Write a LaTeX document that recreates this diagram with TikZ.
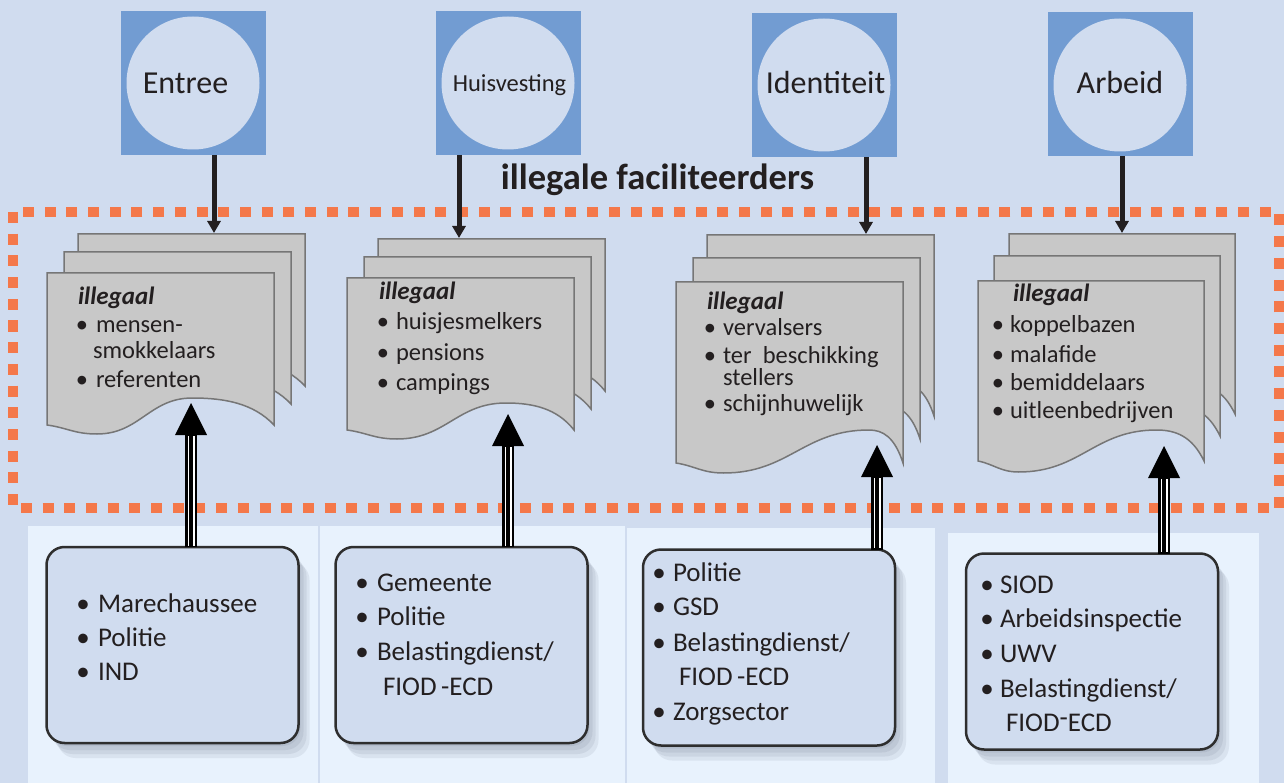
\documentclass[tikz,border=0pt]{standalone}
\usepackage{fontspec}
\setmainfont{Carlito}
\usetikzlibrary{calc,arrows.meta,shadows}
\definecolor{bgc}{HTML}{D0DCEF}
\definecolor{sqc}{HTML}{729CD2}
\definecolor{orc}{HTML}{F4784A}
\definecolor{pgc}{HTML}{C8C8C8}
\definecolor{pgl}{HTML}{767676}
\definecolor{pnc}{HTML}{E8F2FD}
\definecolor{bxl}{HTML}{2E2E2E}
\definecolor{txc}{HTML}{231F20}
\definecolor{shc}{HTML}{303850}

\newcommand\docpage[8]{%
 \pgfmathsetmacro\dR{#1+#3}\pgfmathsetmacro\dB{#2+#4}%
 \pgfmathsetmacro\dCx{#1+#5*#3}\pgfmathsetmacro\dCy{\dB-#6}%
 \pgfmathsetmacro\dTx{#1+#7*#3}\pgfmathsetmacro\dTy{\dB+#8}%
 \pgfmathsetmacro\dA{\dR-\dCx}\pgfmathsetmacro\dE{\dCx-\dTx}\pgfmathsetmacro\dF{\dTx-#1}%
 \filldraw[pagestyle] (#1,#2) -- (\dR,#2) -- (\dR,\dB)
   .. controls ({\dR-0.25*\dA},{\dB-0.8*#6}) and ({\dCx+0.4*\dA},\dCy) .. (\dCx,\dCy)
   .. controls ({\dCx-0.45*\dE},\dCy) and ({\dTx+0.45*\dE},\dTy) .. (\dTx,\dTy)
   .. controls ({\dTx-0.45*\dF},\dTy) and ({#1+0.4*\dF},{\dB+0.3*#8}) .. (#1,\dB) -- cycle;}

\newcommand\itm[6]{%
 \node[#2, anchor=base] (#1b) at (#3,#5) {\textbullet};
 \node[#2, anchor=base west] (#1) at (#4,#5) {#6};}
\newcommand\cont[5]{\node[#2, anchor=base west] (#1) at (#3,#4) {#5};}

\newcommand\uparr[2]{%
 \fill[black] ($(#2 |- #1.north)+(-5.8,0)$) rectangle ($(#2)+(5.8,31)$);
 \fill[white] ($(#2 |- #1.north)+(-3.5,-1.4)$) rectangle ($(#2)+(-1.7,33)$);
 \fill[white] ($(#2 |- #1.north)+(1.7,-1.4)$) rectangle ($(#2)+(3.5,33)$);
 \fill[black] (#2) -- ($(#2)+(-16,32)$) -- ($(#2)+(16,32)$) -- cycle;}

\begin{document}
\begin{tikzpicture}[x=1pt,y=-1pt,
 every node/.style={inner sep=0pt, outer sep=0pt, text=txc},
 sq/.style={fill=sqc, minimum width=145pt, minimum height=144pt},
 circ/.style={circle, fill=bgc, minimum size=133pt},
 biglabel/.style={font=\fontsize{32}{38}\selectfont, anchor=base},
 pagestyle/.style={fill=pgc, draw=pgl, line width=1.5pt},
 pagetxt/.style={font=\fontsize{24.5}{28}\selectfont},
 pagehead/.style={font=\fontsize{25}{28}\selectfont\bfseries\itshape, anchor=base west},
 boxtxt/.style={font=\fontsize{27}{32}\selectfont},
 downarr/.style={line width=5pt, draw=txc, -{Triangle[width=13pt,length=12pt]}},
 softshadow/.style={
   general shadow={fill=shc, opacity=.08, shadow xshift=2pt, shadow yshift=-3pt},
   general shadow={fill=shc, opacity=.08, shadow xshift=5pt, shadow yshift=-7pt},
   general shadow={fill=shc, opacity=.08, shadow xshift=8pt, shadow yshift=-11pt},
   general shadow={fill=shc, opacity=.08, shadow xshift=11pt, shadow yshift=-15pt}},
 bx/.style={draw=bxl, line width=2.5pt, fill=bgc, rounded corners=18pt,
   minimum width=252pt, minimum height=196pt, softshadow}
]
\useasboundingbox (0,0) rectangle (1284,783);
\fill[bgc] (0,0) rectangle (1284,783);

% light panels
\fill[pnc] (28,526) rectangle (318,783);
\fill[pnc] (320,526) rectangle (625,783);
\fill[pnc] (627,528) rectangle (935,783);
\fill[pnc] (948,533) rectangle (1259,783);

% orange dotted frame
\draw[orc, line width=10pt, dash pattern=on 11pt off 10.7pt] (13,212) rectangle (1279,508);

% top squares with circles
\node[sq] (sq1) at (193.5,83) {};
\node[circ] (c1) at (193,83) {};
\node[biglabel] (l1) at (185.5,94) {Entree};
\node[sq] (sq2) at (508.5,83) {};
\node[circ] (c2) at (508,83) {};
\node[biglabel, font=\fontsize{24.5}{30}\selectfont] (l2) at (509.5,92) {Huisvesting};
\node[sq] (sq3) at (824.5,85) {};
\node[circ] (c3) at (824,85) {};
\node[biglabel] (l3) at (825.5,94) {Identiteit};
\node[sq] (sq4) at (1120.5,84) {};
\node[circ] (c4) at (1120,85) {};
\node[biglabel] (l4) at (1120,94) {Arbeid};

% title
\node[font=\fontsize{36.5}{42}\selectfont\bfseries, anchor=base] (title) at (657.5,190) {illegale faciliteerders};

% down arrows
\coordinate (t1) at (214,233);
\coordinate (t2) at (459,238);
\coordinate (t3) at (866,234);
\coordinate (t4) at (1122,233);
\draw[downarr] (t1 |- sq1.south) -- (t1);
\draw[downarr] (t2 |- sq2.south) -- (t2);
\draw[downarr] (t3 |- sq3.south) -- (t3);
\draw[downarr] (t4 |- sq4.south) -- (t4);

% document stacks
\docpage{78}{234}{227}{152}{0.64}{27}{0.22}{9}
\docpage{64}{252}{227}{152}{0.64}{27}{0.22}{9}
\docpage{47}{273}{227}{152}{0.64}{27}{0.22}{9}

\docpage{378}{239}{227}{152}{0.70}{27}{0.22}{9}
\docpage{364}{257}{227}{152}{0.70}{27}{0.22}{9}
\docpage{347}{278}{227}{152}{0.70}{27}{0.22}{9}

\docpage{707}{235}{227}{181}{0.85}{33}{0.21}{10}
\docpage{693}{258}{227}{181}{0.85}{33}{0.21}{10}
\docpage{676}{282}{227}{181}{0.85}{33}{0.21}{10}

\docpage{1009}{234}{226}{180}{0.79}{31}{0.18}{11}
\docpage{994}{256}{226}{180}{0.79}{31}{0.18}{11}
\docpage{978}{281}{226}{180}{0.79}{31}{0.18}{11}

% document texts
\node[pagehead] (eh) at (78,305) {illegaal};
\itm{e1}{pagetxt}{82}{96}{333}{mensen-}
\cont{e1c}{pagetxt}{93}{358}{smokkelaars}
\itm{e2}{pagetxt}{82}{96}{387}{referenten}

\node[pagehead] (hh) at (379,300) {illegaal};
\itm{h1}{pagetxt}{383}{396}{330}{huisjesmelkers}
\itm{h2}{pagetxt}{383}{396}{360}{pensions}
\itm{h3}{pagetxt}{383}{396}{390}{campings}

\node[pagehead] (ih) at (707,309) {illegaal};
\itm{i1}{pagetxt}{710}{723}{335}{vervalsers}
\itm{i2}{pagetxt}{710}{723}{363}{ter\ \ beschikking}
\cont{i2c}{pagetxt}{723}{385}{stellers}
\itm{i3}{pagetxt}{710}{723}{411}{schijnhuwelijk}

\node[pagehead] (ah) at (1013,302) {illegaal};
\itm{a1}{pagetxt}{998}{1010}{332}{koppelbazen}
\itm{a2}{pagetxt}{998}{1010}{362}{malafide}
\itm{a3}{pagetxt}{998}{1010}{390}{bemiddelaars}
\itm{a4}{pagetxt}{998}{1010}{418}{uitleenbedrijven}

% bottom boxes
\node[bx] (b1) at (172.5,645) {};
\node[bx] (b2) at (461.5,645) {};
\node[bx] (b3) at (769,647.5) {};
\node[bx] (b4) at (1092,651.5) {};

\itm{p1}{boxtxt}{83}{98}{612}{Marechaussee}
\itm{p2}{boxtxt}{83}{98}{646}{Politie}
\itm{p3}{boxtxt}{83}{98}{680}{IND}

\itm{q1}{boxtxt}{362}{377}{591}{Gemeente}
\itm{q2}{boxtxt}{362}{377}{625}{Politie}
\itm{q3}{boxtxt}{362}{377}{660}{Belastingdienst/}
\cont{q3c}{boxtxt}{383}{695}{FIOD\,-ECD}

\itm{r1}{boxtxt}{659}{673}{581}{Politie}
\itm{r2}{boxtxt}{659}{673}{615}{GSD}
\itm{r3}{boxtxt}{659}{673}{651}{Belastingdienst/}
\cont{r3c}{boxtxt}{679}{685}{FIOD\,-ECD}
\itm{r4}{boxtxt}{659}{673}{720}{Zorgsector}

\itm{s1}{boxtxt}{987}{1000}{593}{SIOD}
\itm{s2}{boxtxt}{987}{1000}{627}{Arbeidsinspectie}
\itm{s3}{boxtxt}{987}{1000}{662}{UWV}
\itm{s4}{boxtxt}{987}{1000}{697}{Belastingdienst/}
\cont{s4c}{boxtxt}{1006}{731}{FIOD\raisebox{5pt}{-}ECD}

% up arrows
\coordinate (u1) at (191,403);
\coordinate (u2) at (508,414);
\coordinate (u3) at (877,445);
\coordinate (u4) at (1164,446);
\uparr{b1}{u1}
\uparr{b2}{u2}
\uparr{b3}{u3}
\uparr{b4}{u4}
\end{tikzpicture}
\end{document}
